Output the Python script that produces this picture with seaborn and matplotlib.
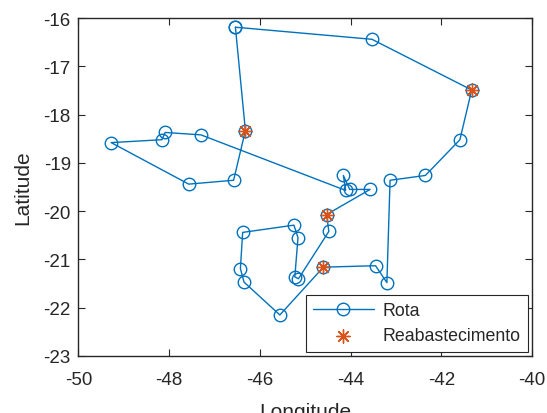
import matplotlib
matplotlib.use("Agg")
import matplotlib.pyplot as plt
import seaborn as sns
import pandas as pd

route_lon = [-46.54, -43.53, -41.33, -41.59, -42.35, -43.13, -43.20, -43.45, -44.60, -45.56,
             -46.35, -46.43, -46.38, -45.25, -45.16, -45.23, -45.15, -44.48, -44.53, -43.57,
             -44.02, -44.16, -44.11, -47.30, -48.09, -48.16, -49.28, -47.57, -46.58, -46.32,
             -46.54]
route_lat = [-16.19, -16.44, -17.49, -18.52, -19.26, -19.36, -21.48, -21.13, -21.16, -22.15,
             -21.47, -21.19, -20.44, -20.29, -20.55, -21.36, -21.40, -20.42, -20.07, -19.55,
             -19.55, -19.26, -19.57, -18.42, -18.37, -18.52, -18.58, -19.44, -19.36, -18.33,
             -16.19]
refuel_lon = [-41.33, -44.60, -44.53, -46.32]
refuel_lat = [-17.49, -21.16, -20.07, -18.33]

x_ticks = [-50, -48, -46, -44, -42, -40]
y_ticks = [-23, -22, -21, -20, -19, -18, -17, -16]

sns.set_theme(style="white")
plt.rcParams['font.family'] = ['Liberation Sans', 'DejaVu Sans']
txt = '#262626'

fig = plt.figure(figsize=(5.47, 4.14), dpi=100)
ax = fig.add_axes([0.1435, 0.1377, 0.8291, 0.8163])

route = pd.DataFrame({"lon": route_lon, "lat": route_lat})
refuel = pd.DataFrame({"lon": refuel_lon, "lat": refuel_lat})

sns.lineplot(data=route, x="lon", y="lat", sort=False, estimator=None, ax=ax,
             color='#0072BD', linewidth=1.0, marker='o', markersize=9,
             markerfacecolor='none', markeredgecolor='#0072BD', markeredgewidth=1.0,
             label='Rota')
sns.scatterplot(data=refuel, x="lon", y="lat", ax=ax, marker=(8, 2, 0), s=90,
                color='#D95319', linewidth=1.0, edgecolor='#D95319',
                label='Reabastecimento', zorder=5)

ax.set_xlim(-50, -40)
ax.set_ylim(-23, -16)
ax.set_xticks(x_ticks)
ax.set_yticks(y_ticks)
ax.set_xticklabels([str(v) for v in x_ticks])
ax.set_yticklabels([str(v) for v in y_ticks])
ax.tick_params(direction='in', length=5, width=0.8, colors=txt, labelsize=13.5,
               top=True, right=True, bottom=True, left=True)
ax.tick_params(axis='x', pad=11)
ax.tick_params(axis='y', pad=5.5)
for s in ax.spines.values():
    s.set_color(txt)
    s.set_linewidth(1.0)
    s.set_visible(True)
ax.set_xlabel('Longitude', fontsize=15, color=txt, labelpad=10)
ax.set_ylabel('Latitude', fontsize=15, color=txt, labelpad=8)

leg = ax.legend(loc='lower right', fontsize=12.8, frameon=True, fancybox=False,
                framealpha=1, edgecolor='#262626', borderaxespad=0.25,
                handlelength=3.4, handletextpad=0.5, borderpad=0.4, labelspacing=0.45)
leg.get_frame().set_linewidth(0.8)

fig.savefig('out.png', dpi=100)
